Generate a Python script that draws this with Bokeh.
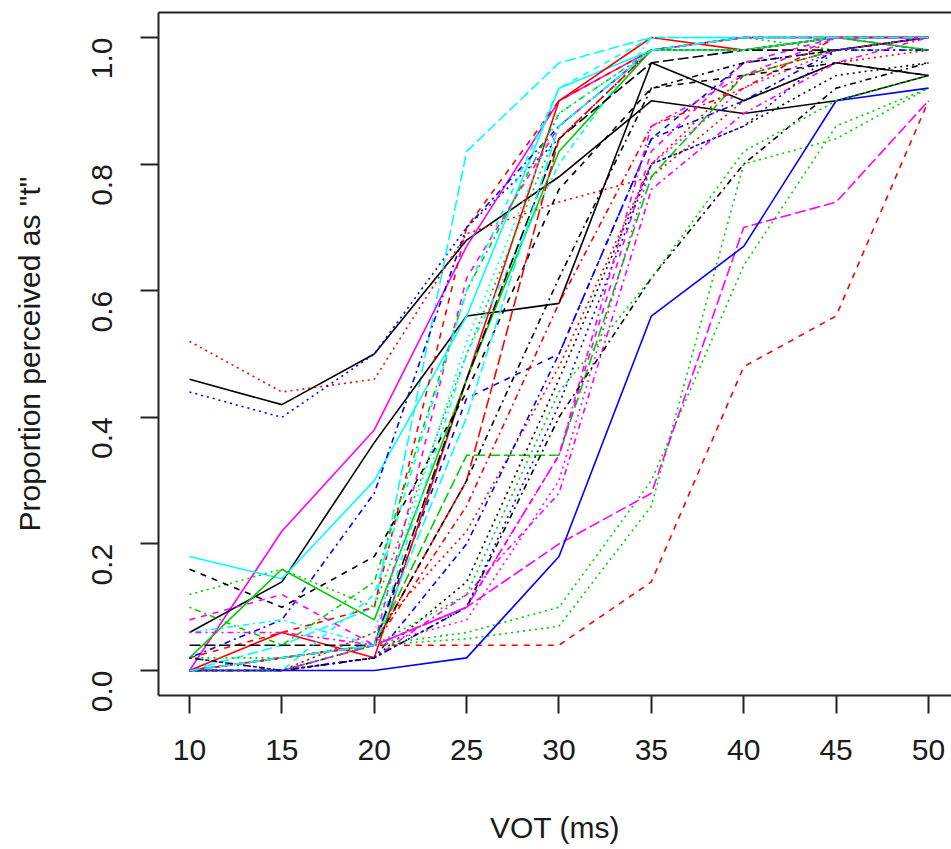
from bokeh.plotting import figure
from bokeh.models import FixedTicker, PrintfTickFormatter, LinearAxis, Range1d
from bokeh.embed import file_html
from bokeh.resources import INLINE
import math

# ---- data -------------------------------------------------------------
vot_ms = [10, 15, 20, 25, 30, 35, 40, 45, 50]
x_tick_values = [10, 15, 20, 25, 30, 35, 40, 45, 50]
y_tick_values = [0.0, 0.2, 0.4, 0.6, 0.8, 1.0]

# proportion of "t" responses per listener (one row per line)
responses = [
    [0.46, 0.42, 0.50, 0.68, 0.78, 0.90, 0.88, 0.90, 0.94],
    [0.52, 0.44, 0.46, 0.69, 0.74, 0.78, 0.90, 0.96, 0.98],
    [0.44, 0.40, 0.50, 0.70, 0.84, 0.98, 0.98, 1.00, 1.00],
    [0.00, 0.04, 0.10, 0.82, 0.96, 1.00, 1.00, 1.00, 1.00],
    [0.00, 0.22, 0.38, 0.67, 0.90, 0.98, 0.98, 1.00, 1.00],
    [0.06, 0.14, 0.36, 0.56, 0.58, 0.96, 0.90, 0.96, 0.94],
    [0.18, 0.145, 0.30, 0.56, 0.92, 0.98, 1.00, 1.00, 1.00],
    [0.02, 0.08, 0.28, 0.70, 0.86, 0.98, 1.00, 1.00, 0.98],
    [0.02, 0.06, 0.10, 0.70, 0.90, 0.98, 1.00, 1.00, 1.00],
    [0.00, 0.02, 0.04, 0.43, 0.50, 0.84, 0.96, 0.98, 1.00],
    [0.00, 0.06, 0.02, 0.46, 0.90, 1.00, 0.98, 1.00, 1.00],
    [0.02, 0.16, 0.08, 0.46, 0.82, 0.98, 0.98, 1.00, 0.98],
    [0.12, 0.16, 0.10, 0.50, 0.86, 0.98, 1.00, 0.98, 0.98],
    [0.06, 0.08, 0.04, 0.50, 0.80, 1.00, 1.00, 1.00, 1.00],
    [0.04, 0.04, 0.04, 0.46, 0.84, 0.96, 0.98, 0.98, 1.00],
    [0.08, 0.12, 0.04, 0.62, 0.86, 0.98, 1.00, 1.00, 1.00],
    [0.10, 0.04, 0.14, 0.60, 0.88, 0.98, 0.98, 1.00, 1.00],
    [0.00, 0.00, 0.12, 0.60, 0.92, 1.00, 1.00, 1.00, 1.00],
    [0.16, 0.10, 0.18, 0.44, 0.76, 0.92, 0.94, 0.96, 0.94],
    [0.00, 0.02, 0.04, 0.30, 0.84, 0.98, 1.00, 1.00, 1.00],
    [0.02, 0.00, 0.06, 0.52, 0.88, 0.98, 0.98, 1.00, 1.00],
    [0.00, 0.02, 0.04, 0.34, 0.34, 0.78, 0.94, 0.98, 1.00],
    [0.00, 0.00, 0.02, 0.14, 0.46, 0.80, 0.86, 0.94, 0.96],
    [0.02, 0.00, 0.04, 0.30, 0.62, 0.92, 0.96, 0.98, 1.00],
    [0.00, 0.02, 0.04, 0.26, 0.58, 0.86, 0.92, 1.00, 1.00],
    [0.00, 0.00, 0.06, 0.22, 0.48, 0.80, 0.94, 0.98, 1.00],
    [0.00, 0.00, 0.02, 0.20, 0.50, 0.84, 0.90, 0.98, 0.98],
    [0.00, 0.02, 0.04, 0.08, 0.30, 0.80, 0.92, 0.98, 1.00],
    [0.00, 0.00, 0.02, 0.12, 0.28, 0.76, 0.88, 0.96, 1.00],
    [0.00, 0.02, 0.04, 0.10, 0.34, 0.82, 0.96, 1.00, 1.00],
    [0.02, 0.02, 0.04, 0.06, 0.10, 0.30, 0.64, 0.86, 0.92],
    [0.00, 0.02, 0.04, 0.05, 0.07, 0.26, 0.80, 0.84, 0.92],
    [0.00, 0.00, 0.02, 0.10, 0.40, 0.62, 0.80, 0.92, 0.96],
    [0.00, 0.00, 0.04, 0.10, 0.20, 0.28, 0.70, 0.74, 0.90],
    [0.00, 0.02, 0.04, 0.04, 0.04, 0.14, 0.48, 0.56, 0.90],
    [0.00, 0.00, 0.00, 0.02, 0.18, 0.56, 0.67, 0.90, 0.92],
    [0.00, 0.00, 0.04, 0.12, 0.44, 0.62, 0.82, 0.90, 0.94],
    [0.02, 0.00, 0.02, 0.10, 0.42, 0.80, 0.86, 0.98, 1.00],
    [0.06, 0.06, 0.04, 0.10, 0.34, 0.86, 0.94, 1.00, 1.00],
    [0.00, 0.02, 0.04, 0.40, 0.86, 0.98, 1.00, 1.00, 1.00],
]

# ---- styles ---------------------------------------------------------------
K, R, G, B, C, M = "#000000", "#FF0000", "#00CD00", "#0000FF", "#00FFFF", "#FF00FF"
SOLID, DASH, DOT, DOTDASH, LONGDASH = "solid", "6 6", "2 4", "2 4 6 4", "11 4"

line_colors = [K, R, B, C, M, K, C, B, R, B, R, G, G, C, K, M, G, C, K, R,
               C, G, K, K, R, R, B, M, M, M, G, G, K, M, R, B, G, B, M, C]
line_dashes = [SOLID, DOT, DOT, LONGDASH, SOLID, SOLID, SOLID, DOTDASH, DASH, DASH,
               SOLID, SOLID, DOT, DOTDASH, LONGDASH, DASH, DOTDASH, DASH, DASH, LONGDASH,
               DOT, LONGDASH, DOT, DOTDASH, DOTDASH, DOT, DOTDASH, DOT, DOTDASH, DASH,
               DOT, DOT, DOTDASH, LONGDASH, DASH, SOLID, DOT, DOT, DOTDASH, LONGDASH]

FONT = "Liberation Sans"

p = figure(width=951, height=849, output_backend="svg", toolbar_location=None,
           x_range=Range1d(8.322, 51.245), y_range=Range1d(-0.0395, 1.0395),
           min_border_left=158, min_border_right=0, min_border_top=12,
           min_border_bottom=154)
p.outline_line_color = None
p.grid.visible = False
p.background_fill_color = "white"
p.border_fill_color = "white"

for vals, col, dash in zip(responses, line_colors, line_dashes):
    p.line(vot_ms, vals, line_color=col, line_dash=dash, line_width=1.6)

for ax in (p.xaxis[0], p.yaxis[0]):
    ax.axis_line_color = "#222222"
    ax.axis_line_width = 2
    ax.major_tick_line_color = "#222222"
    ax.major_tick_line_width = 2
    ax.major_tick_out = 18
    ax.major_tick_in = 0
    ax.minor_tick_out = 0
    ax.minor_tick_in = 0
    ax.major_label_text_font = FONT
    ax.major_label_text_font_size = "30px"
    ax.major_label_text_color = "#1a1a1a"
    ax.axis_label_text_font = FONT
    ax.axis_label_text_font_size = "30px"
    ax.axis_label_text_font_style = "normal"
    ax.axis_label_text_color = "#1a1a1a"

p.xaxis[0].ticker = FixedTicker(ticks=x_tick_values)
p.xaxis[0].formatter = PrintfTickFormatter(format="%d")
p.xaxis[0].major_label_standoff = 26
p.xaxis[0].axis_label = "VOT (ms)"
p.xaxis[0].axis_label_standoff = 48

p.yaxis[0].ticker = FixedTicker(ticks=y_tick_values)
p.yaxis[0].formatter = PrintfTickFormatter(format="%.1f")
p.yaxis[0].major_label_orientation = math.pi / 2
p.yaxis[0].major_label_standoff = 38
p.yaxis[0].axis_label = 'Proportion perceived as "t"'
p.yaxis[0].axis_label_standoff = 34

top = LinearAxis(ticker=FixedTicker(ticks=[]), axis_line_color="#222222",
                 axis_line_width=2, major_tick_out=0, major_tick_in=0,
                 minor_tick_out=0, minor_tick_in=0,
                 major_label_text_font_size="0px")
p.add_layout(top, "above")

open("out.html", "w").write(file_html(p, INLINE))
